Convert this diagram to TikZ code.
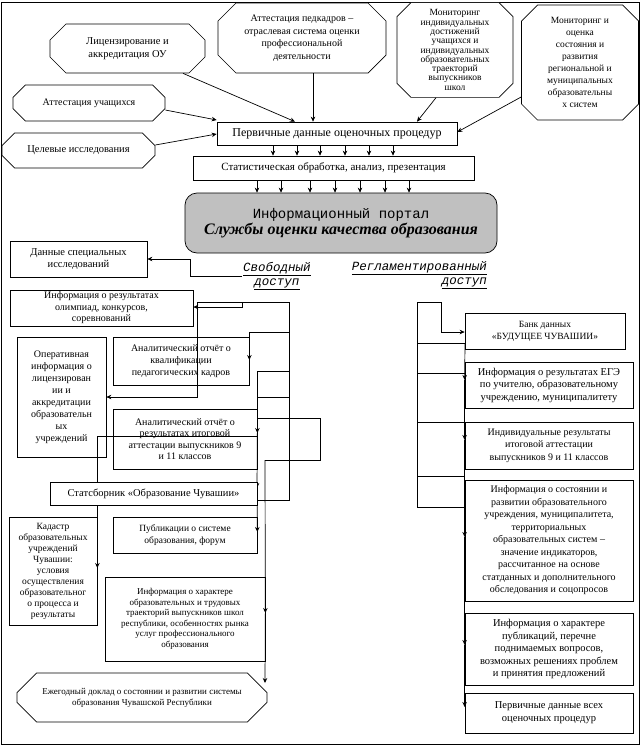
\documentclass[tikz,border=0pt]{standalone}
\usepackage{fontspec}
\setmainfont{Liberation Serif}
\newfontfamily\monofont{Liberation Mono}
\usetikzlibrary{shapes.misc,arrows.meta,calc}
\newcommand\myfs[2]{\fontsize{#1}{#2}\selectfont}
\definecolor{portalgray}{RGB}{192,192,192}
\begin{document}
\begin{tikzpicture}[x=1pt,y=-1pt,
  every node/.style={inner sep=1pt, align=center},
  box/.style={draw, fill=white, rectangle, line width=0.7pt},
  oct/.style={draw, fill=white, chamfered rectangle, chamfered rectangle xsep=#1, chamfered rectangle ysep=#1, inner sep=0pt, line width=0.7pt},
  oct/.default=9pt,
  conn/.style={line width=0.7pt},
  arr/.style={line width=0.7pt, -{Stealth[length=5pt,width=4.5pt]}},
  acc/.style={font=\monofont\itshape\myfs{12.5}{14}}
]
\useasboundingbox (0,0) rectangle (642,747);
\draw[line width=0.8pt] (1,2) rectangle (639,744);

% top sources
\node[oct=8pt, minimum width=155pt, minimum height=49pt, font=\myfs{10.5}{13}] (lic) at (127.5,48.5) {Лицензирование и\\аккредитация ОУ};
\node[oct=9pt, minimum width=168pt, minimum height=70pt, font=\myfs{10}{12.5}] (attp) at (302,38) {Аттестация педкадров –\\отраслевая система оценки\\профессиональной\\деятельности};
\node[oct=7pt, minimum width=116pt, minimum height=94pt, font=\myfs{9.5}{9.3}] (monind) at (455,50) {Мониторинг\\индивидуальных\\достижений\\учащихся и\\индивидуальных\\образовательных\\траекторий\\выпускников\\школ};
\node[oct=8pt, minimum width=117pt, minimum height=115pt, font=\myfs{9.5}{12}] (monreg) at (580,62.5) {Мониторинг и\\оценка\\состояния и\\развития\\региональной и\\муниципальных\\образовательны\\х систем};
\node[oct=8pt, minimum width=152pt, minimum height=36pt, font=\myfs{10}{12}] (attu) at (89,103) {Аттестация учащихся};
\node[oct=8pt, minimum width=153pt, minimum height=35pt, font=\myfs{10.5}{12}] (cel) at (78.5,150.5) {Целевые исследования};

\node[box, minimum width=240pt, minimum height=23pt, font=\myfs{12}{14}] (perv) at (337,133.5) {Первичные данные оценочных процедур};
\node[box, minimum width=281pt, minimum height=24pt, font=\myfs{11}{13}] (stat) at (333.5,168) {Статистическая обработка, анализ, презентация};
\node[draw, fill=portalgray, rounded corners=12pt, line width=0.7pt, minimum width=312pt, minimum height=60pt] (portal) at (341,223)
  {{\monofont\myfs{14}{18}Информационный портал}\\{\myfs{16}{19}\bfseries\itshape Службы оценки качества образования}};

\node[acc] (free) at (277,276) {\underline{Свободный}\\\underline{доступ}};
\node[acc, align=right, anchor=east] (reg) at (488,275) {\underline{Регламентированный}\\\underline{доступ}};

% left column
\node[box, minimum width=137pt, minimum height=36pt, font=\myfs{10.5}{12.5}] (dsi) at (78.5,259) {Данные специальных\\исследований};
\node[box, minimum width=183pt, minimum height=36pt, font=\myfs{10}{11.5}] (olimp) at (101.5,308) {Информация о результатах\\олимпиад, конкурсов,\\соревнований};
\node[box, minimum width=89pt, minimum height=120pt, font=\myfs{10}{12}] (oper) at (61.5,397) {Оперативная\\информация о\\лицензирован\\ии и\\аккредитации\\образовательн\\ых\\учреждений};
\node[box, minimum width=136pt, minimum height=48pt, font=\myfs{10}{12}] (kval) at (181,361) {Аналитический отчёт о\\квалификации\\педагогических кадров};
\node[box, minimum width=144pt, minimum height=60pt, font=\myfs{10}{11.5}] (itog) at (185,439) {Аналитический отчёт о\\результатах итоговой\\аттестации выпускников 9\\и 11 классов};
\node[box, minimum width=144pt, minimum height=36pt, font=\myfs{9.5}{11.5}] (publ) at (185,535) {Публикации о системе\\образования, форум};
\node[box, minimum width=88pt, minimum height=108pt, font=\myfs{9.5}{11}] (kadastr) at (53,571) {Кадастр\\образовательных\\учреждений\\Чувашии:\\условия\\осуществления\\образовательног\\о процесса и\\результаты};
\node[box, minimum width=160pt, minimum height=84pt, font=\myfs{9}{10.5}] (traekt) at (185,619) {Информация о характере\\образовательных и трудовых\\траекторий выпускников школ\\республики, особенностях рынка\\услуг профессионального\\образования};
\node[oct=10pt, minimum width=250pt, minimum height=49pt, font=\myfs{9}{11}] (doklad) at (142,697.5) {Ежегодный доклад о состоянии и развитии системы\\образования Чувашской Республики};

% right column
\node[box, minimum width=160pt, minimum height=36pt, font=\myfs{9.5}{12}] (bank) at (545,331) {Банк данных\\«БУДУЩЕЕ ЧУВАШИИ»};
\node[box, minimum width=168pt, minimum height=46pt, font=\myfs{10.5}{12.5}] (ege) at (549,385) {Информация о результатах ЕГЭ\\по учителю, образовательному\\учреждению, муниципалитету};
\node[box, minimum width=168pt, minimum height=47pt, font=\myfs{10}{12.5}] (indiv) at (549,445.5) {Индивидуальные результаты\\итоговой аттестации\\выпускников 9 и 11 классов};
\node[box, minimum width=168pt, minimum height=121pt, font=\myfs{10}{12.5}] (sost) at (549,540.5) {Информация о состоянии и\\развитии образовательного\\учреждения, муниципалитета,\\территориальных\\образовательных систем –\\значение индикаторов,\\рассчитанное на основе\\статданных и дополнительного\\обследования и соцопросов};
\node[box, minimum width=168pt, minimum height=72pt, font=\myfs{10.5}{12.5}] (harpubl) at (549,649) {Информация о характере\\публикаций, перечне\\поднимаемых вопросов,\\возможных решениях проблем\\и принятия предложений};
\node[box, minimum width=168pt, minimum height=40pt, font=\myfs{10.5}{13}] (pervall) at (549,713) {Первичные данные всех\\оценочных процедур};

% top connectors
\draw[arr] (183,0 |- lic.south) -- (295,0 |- perv.north);
\draw[arr] (313,0 |- attp.south) -- (313,0 |- perv.north);
\draw[arr] (436,0 |- monind.south) -- (417,0 |- perv.north);
\draw[arr] (monreg.west |- 0,97) -- (perv.east |- 0,132);
\draw[arr] (attu.east |- 0,110) -- (perv.west |- 0,120);
\draw[arr] (cel.east |- 0,145) -- (perv.west |- 0,134);
\foreach \x in {273,297,320,345,369,393} \draw[arr] (\x,0 |- perv.south) -- (\x,0 |- stat.north);
\foreach \x in {257,281,310,335,360,385,409} \draw[arr] (\x,0 |- stat.south) -- (\x,0 |- portal.north);

% free access bus
\coordinate (fa) at (289,302);
\coordinate (fc) at (265,460);
\draw[arr] (free.west |- 0,276) -| (190,259) -- (dsi.east |- 0,259);
\draw[conn] (197,302) -- (fa) -- (289,500) -- (257,500);
\draw[arr] (242,302) |- (olimp.east |- 0,307);
\draw[arr] (197,302) |- (oper.east |- 0,397);
\draw[arr] (fa |- 0,332) -| (kval.east |- 0,360);
\draw[arr] (fa |- 0,371) -| (itog.east |- 0,433);
\draw[arr] (itog.east |- 0,433) -- (257,488);
\draw[arr] (257,488) -- (publ.east |- 0,532);
\draw[conn] (257,397) -- (fa |- 0,397);
\draw[conn] (257,418) -- (320,418) -- (320,460) -- (fc);
\draw[arr] (fc) -- (traekt.east |- 0,613);
\draw[arr] (traekt.east |- 0,613) -- (265,683);
\draw[arr] (itog.east |- 0,436) -| (kadastr.east |- 0,568);

\node[box, minimum width=207pt, minimum height=23pt, font=\myfs{10.5}{12}] (statsb) at (153.5,493.5) {Статсборник «Образование Чувашии»};

% regulated access bus
\coordinate (ra) at (417,302);
\draw[arr] (ra) -- (441,302) |- (bank.west |- 0,332);
\draw[conn] (ra) -- (417,507) -- (465,507);
\foreach \y in {343,373,422,476} \draw[conn] (ra |- 0,\y) -- (465,\y);
\draw[arr] (465,343) -- (ege.west |- 0,380);
\draw[arr] (ege.west |- 0,380) -- (indiv.west |- 0,440);
\draw[arr] (indiv.west |- 0,440) -- (sost.west |- 0,537);
\draw[arr] (sost.west |- 0,537) -- (harpubl.west |- 0,645);
\draw[arr] (harpubl.west |- 0,645) -- (pervall.west |- 0,707);
\end{tikzpicture}
\end{document}
